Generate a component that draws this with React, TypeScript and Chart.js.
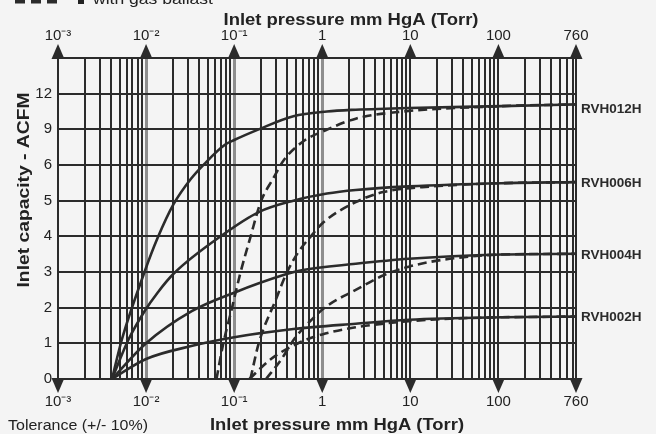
import React, { useEffect, useRef } from 'react';
import { Chart, registerables } from 'chart.js';

Chart.register(...registerables);

// ---------- data ----------
const xMajorValues = [0.001, 0.01, 0.1, 1, 10, 100, 760];
const xMajorLabels = ['10⁻³', '10⁻²', '10⁻¹', '1', '10', '100', '760'];
const yTickValues = [0, 1, 2, 3, 4, 5, 6, 9, 12];
const yTickLabels = ['0', '1', '2', '3', '4', '5', '6', '9', '12'];
const seriesNames = ['RVH012H', 'RVH006H', 'RVH004H', 'RVH002H'];

// solid curves (without gas ballast): pressure in Torr, capacity in ACFM
const rvh012hP = [0.0041, 0.0053, 0.0096, 0.0135, 0.0205, 0.032, 0.046, 0.0785, 0.1, 0.19, 0.47, 1.13, 2.4, 9.6, 109, 760];
const rvh012hQ = [0, 1.1, 3.0, 3.95, 4.9, 5.6, 6.1, 7.7, 8.1, 9.0, 10.1, 10.5, 10.65, 10.8, 10.95, 11.1];
const rvh006hP = [0.0041, 0.0063, 0.0096, 0.0135, 0.0205, 0.075, 0.19, 0.47, 1.13, 2.4, 9.6, 109, 760];
const rvh006hQ = [0, 1.1, 1.9, 2.42, 2.95, 4.05, 4.68, 5.0, 5.2, 5.3, 5.4, 5.49, 5.52];
const rvh004hP = [0.0041, 0.01, 0.033, 0.1, 0.37, 0.585, 2.4, 9.6, 109, 760];
const rvh004hQ = [0, 1.0, 1.9, 2.42, 2.92, 3.05, 3.23, 3.37, 3.49, 3.51];
const rvh002hP = [0.0041, 0.01, 0.0335, 0.1, 0.47, 2.4, 9.6, 109, 760];
const rvh002hQ = [0, 0.56, 0.93, 1.17, 1.4, 1.55, 1.66, 1.73, 1.75];

// dashed curves (with gas ballast)
const rvh012hGasP = [0.063, 0.075, 0.094, 0.117, 0.153, 0.2, 0.274, 0.374, 0.64, 1.0, 2.4, 7.5, 109, 760];
const rvh012hGasQ = [0, 0.98, 1.97, 2.95, 3.98, 4.96, 5.6, 6.5, 8.1, 8.8, 9.9, 10.47, 10.95, 11.1];
const rvh006hGasP = [0.153, 0.19, 0.3, 0.39, 0.536, 0.73, 1.04, 2.4, 4.9, 18, 109, 760];
const rvh006hGasQ = [0, 1.0, 2.25, 2.95, 3.56, 3.98, 4.4, 4.96, 5.24, 5.4, 5.49, 5.52];
const rvh004hGasP = [0.23, 0.343, 0.49, 0.77, 1.09, 2.4, 4.9, 9.6, 28, 109, 760];
const rvh004hGasQ = [0, 0.55, 1.15, 1.68, 2.02, 2.5, 2.9, 3.15, 3.37, 3.49, 3.51];
const rvh002hGasP = [0.149, 0.262, 0.585, 1.0, 2.4, 9.6, 28, 109, 760];
const rvh002hGasQ = [0, 0.56, 1.05, 1.25, 1.45, 1.62, 1.69, 1.73, 1.75];

// ---------- styling ----------
const INK = '#2b2b2b';
const GREY_LINE = '#8e8e8e';
const BG = '#f4f4f4';
const FONT = '"Liberation Sans", Arial, Helvetica, sans-serif';
const greyDecades = [0.01, 0.1, 1];

const same = (a: number, b: number) => Math.abs(a / b - 1) < 1e-6;

// map ACFM value to the position on the (non-uniform) capacity axis
function toPos(v: number): number {
  for (let i = 0; i < yTickValues.length - 1; i++) {
    const a = yTickValues[i];
    const b = yTickValues[i + 1];
    if (v <= b || i === yTickValues.length - 2) return i + (v - a) / (b - a);
  }
  return 0;
}

function gridValues(): number[] {
  const vals: number[] = [];
  for (let e = -3; e <= 2; e++) {
    for (let m = 1; m <= 9; m++) {
      const v = Number((m * Math.pow(10, e)).toPrecision(3));
      if (v < 760) vals.push(v);
    }
  }
  vals.push(760);
  return vals;
}

function fitText(ctx: CanvasRenderingContext2D, text: string, x: number, y: number, targetW: number, font: string, align: CanvasTextAlign, rotate = false) {
  ctx.save();
  ctx.font = font;
  const w = ctx.measureText(text).width;
  const s = targetW / w;
  ctx.translate(x, y);
  if (rotate) ctx.rotate(-Math.PI / 2);
  ctx.scale(s, 1);
  ctx.textAlign = align;
  ctx.textBaseline = 'alphabetic';
  ctx.fillText(text, 0, 0);
  ctx.restore();
}

const overlay = {
  id: 'overlay',
  beforeDraw(chart: any) {
    const { ctx, width, height } = chart;
    ctx.save();
    ctx.fillStyle = BG;
    ctx.fillRect(0, 0, width, height);
    ctx.restore();
  },
  afterDraw(chart: any) {
    const ctx: CanvasRenderingContext2D = chart.ctx;
    const xs = chart.scales.x;
    const ys = chart.scales.y;
    const area = chart.chartArea;
    ctx.save();
    ctx.fillStyle = INK;
    // arrow markers on the decade ticks
    xMajorValues.forEach((v) => {
      const px = xs.getPixelForValue(v);
      ctx.beginPath();
      ctx.moveTo(px - 6.5, area.top + 1);
      ctx.lineTo(px + 6.5, area.top + 1);
      ctx.lineTo(px, area.top - 14);
      ctx.closePath();
      ctx.fill();
      ctx.beginPath();
      ctx.moveTo(px - 6.5, area.bottom - 1);
      ctx.lineTo(px + 6.5, area.bottom - 1);
      ctx.lineTo(px, area.bottom + 14);
      ctx.closePath();
      ctx.fill();
    });

    // series labels at the curve ends
    const ends = [rvh012hQ, rvh006hQ, rvh004hQ, rvh002hQ].map((q) => q[q.length - 1]);
    ctx.font = `bold 13.5px ${FONT}`;
    ctx.textAlign = 'left';
    ctx.textBaseline = 'middle';
    seriesNames.forEach((name, i) => {
      const py = ys.getPixelForValue(toPos(ends[i]));
      ctx.fillText(name, area.right + 5, py + (i === 0 ? 5 : 1));
    });

    // titles and notes
    ctx.fillStyle = '#222';
    fitText(ctx, 'Inlet pressure mm HgA (Torr)', 351, 24.5, 255, `bold 16px ${FONT}`, 'center');
    fitText(ctx, 'Inlet pressure mm HgA (Torr)', 337, 430, 254, `bold 16px ${FONT}`, 'center');
    fitText(ctx, 'Inlet capacity - ACFM', 28.5, 190, 195, `bold 16.5px ${FONT}`, 'center', true);
    fitText(ctx, 'Tolerance (+/- 10%)', 8, 429.5, 140, `15px ${FONT}`, 'left');
    fitText(ctx, 'with gas ballast', 93, 4, 120, `15px ${FONT}`, 'left');

    // legend sample for the dashed lines
    ctx.strokeStyle = INK;
    ctx.lineWidth = 4;
    ctx.setLineDash([10, 6]);
    ctx.beginPath();
    ctx.moveTo(15, 1.5);
    ctx.lineTo(61, 1.5);
    ctx.stroke();
    ctx.setLineDash([]);
    ctx.fillRect(78, 0, 6, 4);
    ctx.restore();
  },
};

export default function App() {
  const ref = useRef<HTMLCanvasElement | null>(null);

  useEffect(() => {
    if (!ref.current) return;
    const curves = [
      { p: rvh012hP, q: rvh012hQ, dashed: false },
      { p: rvh006hP, q: rvh006hQ, dashed: false },
      { p: rvh004hP, q: rvh004hQ, dashed: false },
      { p: rvh002hP, q: rvh002hQ, dashed: false },
      { p: rvh012hGasP, q: rvh012hGasQ, dashed: true },
      { p: rvh006hGasP, q: rvh006hGasQ, dashed: true },
      { p: rvh004hGasP, q: rvh004hGasQ, dashed: true },
      { p: rvh002hGasP, q: rvh002hGasQ, dashed: true },
    ];
    const datasets = curves.map((c) => ({
      data: c.p.map((x, i) => ({ x, y: toPos(c.q[i]) })),
      borderColor: INK,
      borderWidth: 2.6,
      borderDash: c.dashed ? [9, 5] : [],
      pointRadius: 0,
      fill: false,
      cubicInterpolationMode: 'monotone' as const,
      xAxisID: 'x',
      yAxisID: 'y',
    }));

    const grid = gridValues();
    const xTickCallback = (value: any) => {
      const i = xMajorValues.findIndex((m) => same(Number(value), m));
      return i >= 0 ? xMajorLabels[i] : '';
    };
    const setTicks = (scale: any) => {
      scale.ticks = grid.map((v) => ({ value: v }));
    };
    const tickFont = { family: FONT, size: 15 };

    const chart = new Chart(ref.current, {
      type: 'line',
      data: { datasets },
      plugins: [overlay],
      options: {
        animation: false,
        responsive: false,
        devicePixelRatio: 1,
        layout: { padding: { left: 0, right: 80, top: 0, bottom: 0 } },
        plugins: { legend: { display: false }, tooltip: { enabled: false } },
        scales: {
          x: {
            type: 'logarithmic',
            position: 'bottom',
            min: 0.001,
            max: 760,
            afterBuildTicks: setTicks,
            afterFit: (s: any) => { s.height = 55; },
            ticks: { autoSkip: false, maxRotation: 0, minRotation: 0, padding: 14, color: '#222', font: tickFont, callback: xTickCallback },
            grid: {
              drawTicks: false,
              color: (c: any) => (greyDecades.some((g) => c.tick && same(c.tick.value, g)) ? GREY_LINE : INK),
              lineWidth: (c: any) => (greyDecades.some((g) => c.tick && same(c.tick.value, g)) ? 3 : 2),
            },
            border: { display: true, color: INK, width: 2 },
          },
          x2: {
            type: 'logarithmic',
            position: 'top',
            min: 0.001,
            max: 760,
            afterBuildTicks: setTicks,
            afterFit: (s: any) => { s.height = 58; },
            ticks: { autoSkip: false, maxRotation: 0, minRotation: 0, padding: 13, color: '#222', font: tickFont, callback: xTickCallback },
            grid: { display: false, drawTicks: false },
            border: { display: true, color: INK, width: 2 },
          },
          y: {
            type: 'linear',
            min: 0,
            max: 9,
            afterFit: (s: any) => { s.width = 58; },
            ticks: {
              stepSize: 1,
              padding: 6,
              color: '#222',
              font: tickFont,
              callback: (v: any) => (yTickLabels[Number(v)] !== undefined ? yTickLabels[Number(v)] : ''),
            },
            grid: { drawTicks: false, color: INK, lineWidth: 2 },
            border: { display: true, color: INK, width: 2 },
          },
        },
      } as any,
    });
    return () => chart.destroy();
  }, []);

  return (
    <div style={{ position: 'fixed', left: 0, top: 0, width: 656, height: 434, background: BG }}>
      <canvas ref={ref} width={656} height={434} style={{ display: 'block' }} />
    </div>
  );
}
